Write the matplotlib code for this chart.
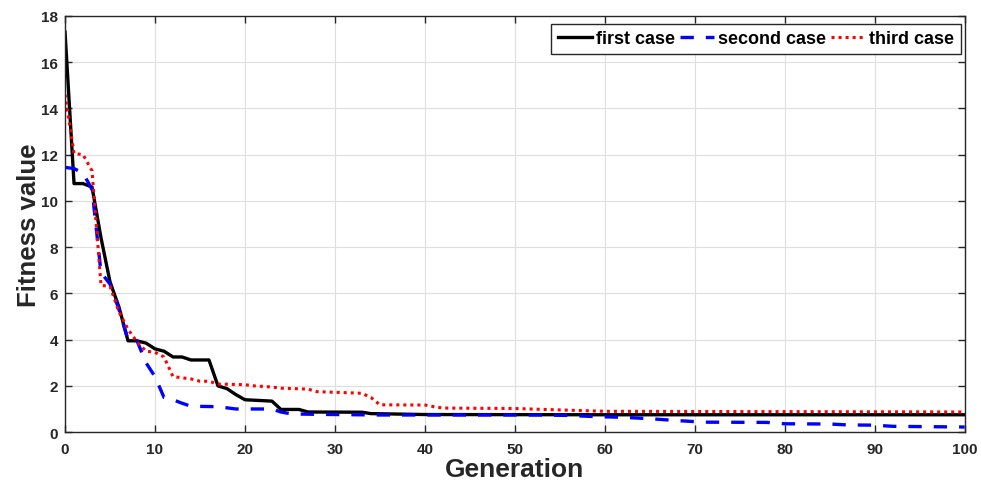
import matplotlib.pyplot as plt

plt.rcParams['font.family'] = ['Liberation Sans', 'DejaVu Sans']

# generation breakpoints and fitness values
gen_first = [0, 1, 2, 3, 4, 5, 6, 7, 8, 9, 10, 11, 12, 13, 14, 15, 16, 17, 18,
             19, 20, 21, 22, 23, 24, 25, 26, 27, 33, 34, 40, 60, 100]
fit_first = [17.3, 10.75, 10.75, 10.6, 8.4, 6.5, 5.4, 3.95, 3.95, 3.85, 3.6,
             3.5, 3.25, 3.25, 3.12, 3.12, 3.12, 2.0, 1.88, 1.62, 1.4, 1.38,
             1.36, 1.34, 0.98, 0.98, 0.98, 0.87, 0.86, 0.8, 0.76, 0.75, 0.75]

gen_second = [0, 1, 2, 3, 4, 5, 6, 7, 8, 9, 10, 11, 12, 13, 14, 17, 18, 19,
              23, 24, 25, 26, 30, 35, 53, 56, 59, 62, 65, 68, 71, 78, 80, 85,
              87, 90, 92, 100]
fit_second = [11.45, 11.4, 11.2, 10.5, 6.9, 6.4, 5.3, 4.0, 3.95, 3.0, 2.4,
              1.5, 1.4, 1.25, 1.12, 1.1, 1.05, 1.0, 1.0, 0.87, 0.8, 0.78,
              0.76, 0.74, 0.74, 0.72, 0.67, 0.64, 0.58, 0.5, 0.43, 0.42, 0.36,
              0.35, 0.31, 0.3, 0.25, 0.22]

gen_third = [0, 1, 2, 3, 4, 5, 6, 7, 8, 9, 10, 11, 12, 13, 14, 15, 16, 17, 20,
             21, 23, 24, 27, 28, 33, 34, 35, 40, 41, 42, 50, 55, 60, 100]
fit_third = [14.6, 12.05, 12.0, 11.3, 6.35, 6.3, 5.2, 4.45, 3.9, 3.5, 3.45,
             3.25, 2.4, 2.35, 2.3, 2.2, 2.2, 2.08, 2.05, 2.0, 1.95, 1.9, 1.86,
             1.75, 1.68, 1.5, 1.18, 1.17, 1.1, 1.04, 1.02, 0.96, 0.9, 0.87]

fig = plt.figure(figsize=(9.81, 4.85), dpi=100)
ax = fig.add_axes([0.0663, 0.107, 0.917, 0.858])

ax.plot(gen_first, fit_first, color='black', lw=2.4, label='first case')
ax.plot(gen_second, fit_second, color='blue', lw=2.4, ls=(0, (4, 3.6)),
        label='second case')
ax.plot(gen_third, fit_third, color='red', lw=2.2, ls=(0, (1, 1.3)),
        label='third case')

ax.set_xlim(0, 100)
ax.set_ylim(0, 18)
ax.set_xticks(range(0, 101, 10))
ax.set_yticks(range(0, 19, 2))
ax.grid(True, color='#dedede', lw=0.8)
ax.set_axisbelow(True)

dark = '#262626'
for s in ax.spines.values():
    s.set_color(dark)
    s.set_linewidth(1.0)
ax.tick_params(direction='in', length=5, width=1, color=dark, top=True,
               right=True, labelsize=11, labelcolor=dark)
ax.tick_params(axis='y', pad=5)
ax.tick_params(axis='x', pad=7)
for lab in ax.get_xticklabels() + ax.get_yticklabels():
    lab.set_fontweight('bold')

ax.set_xlabel('Generation', fontsize=19, fontweight='bold', color=dark,
              labelpad=1)
ax.set_ylabel('Fitness value', fontsize=18.5, fontweight='bold', color=dark,
              labelpad=0)

leg = ax.legend(loc='upper right', bbox_to_anchor=(0.9956, 0.981), ncol=3,
                fancybox=False, framealpha=1, edgecolor=dark,
                prop={'weight': 'bold', 'size': 13},
                handlelength=1.9, handletextpad=0.2, columnspacing=0.3,
                borderpad=0.35, borderaxespad=0)
leg.get_frame().set_linewidth(1.0)

fig.savefig('out.png', dpi=100)
